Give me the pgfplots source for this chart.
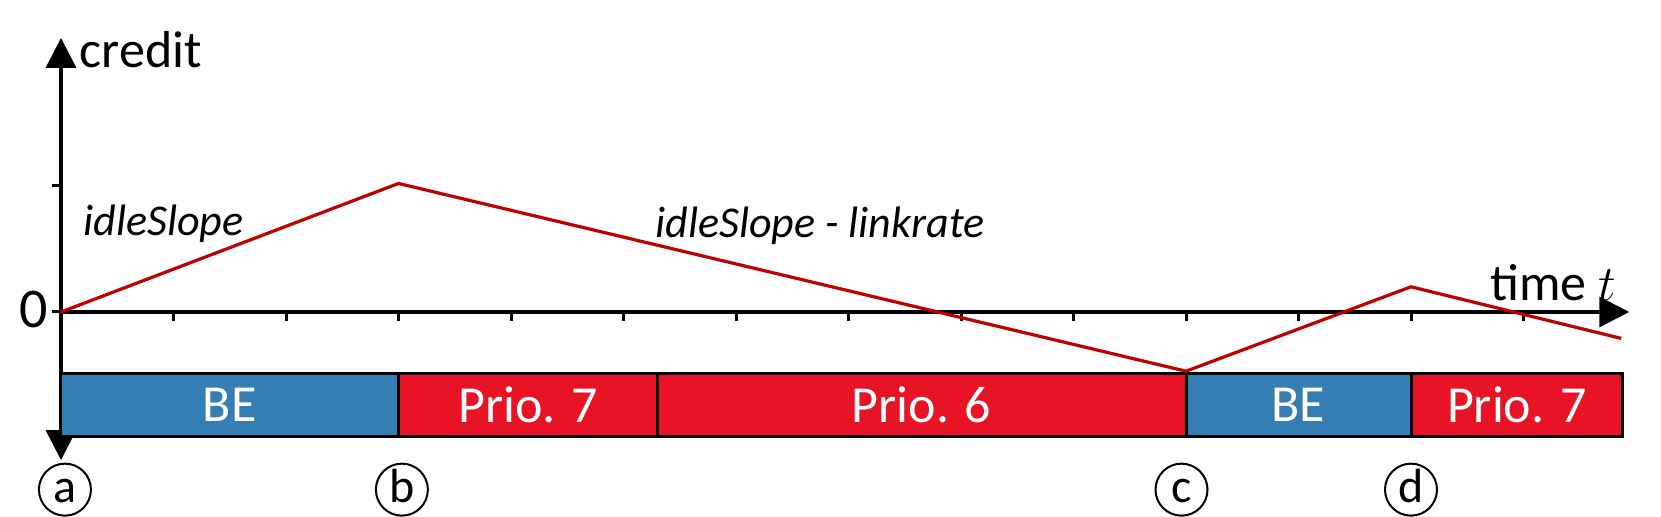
\documentclass[border=0pt]{standalone}
\usepackage{fontspec}
\setmainfont{Carlito}
\usepackage{pgfplots}
\pgfplotsset{compat=1.18}
\usetikzlibrary{arrows.meta}
\definecolor{beblue}{HTML}{347EB4}
\definecolor{prred}{HTML}{E81426}
\definecolor{creditred}{HTML}{C00000}
\begin{document}
\begin{tikzpicture}
\path[use as bounding box] (0,0) rectangle (830.5pt,258.5pt);
\begin{axis}[
  anchor=origin, at={(30.5pt,102.5pt)},
  x=56.25pt, y=63pt,
  xmin=0, xmax=13.94, ymin=-1.175, ymax=2.175,
  enlargelimits=false,
  axis lines=middle,
  clip=false,
  xtick={1,...,13}, xticklabels={},
  ytick={0,1}, yticklabels={},
  hide obscured y ticks=false,
  tick align=outside,
  major tick length=4.5pt,
  every tick/.style={black, line width=1.5pt},
  axis line style={line width=1.7pt, black},
  x axis line style={-{Triangle[length=15pt,width=15pt]}},
  y axis line style={{Triangle[length=15pt,width=15pt]}-{Triangle[length=15pt,width=15pt]}},
]
% schedule bars
\addplot[fill=beblue, draw=black, line width=1.5pt, line join=miter, mark=none] coordinates {(0,-0.99) (3,-0.99) (3,-0.485) (0,-0.485)} -- cycle;
\addplot[fill=prred, draw=black, line width=1.5pt, line join=miter, mark=none] coordinates {(3,-0.99) (5.3,-0.99) (5.3,-0.485) (3,-0.485)} -- cycle;
\addplot[fill=prred, draw=black, line width=1.5pt, line join=miter, mark=none] coordinates {(5.3,-0.99) (10,-0.99) (10,-0.485) (5.3,-0.485)} -- cycle;
\addplot[fill=beblue, draw=black, line width=1.5pt, line join=miter, mark=none] coordinates {(10,-0.99) (12,-0.99) (12,-0.485) (10,-0.485)} -- cycle;
\addplot[fill=prred, draw=black, line width=1.5pt, line join=miter, mark=none] coordinates {(12,-0.99) (13.88,-0.99) (13.88,-0.485) (12,-0.485)} -- cycle;
% credit curve
\addplot[creditred, line width=1.6pt, mark=none] coordinates {(0,0) (3,1.02) (10,-0.47) (12,0.2) (13.87,-0.21)};
% bar labels
\begin{scope}[every node/.style={white, inner sep=0pt, font=\fontsize{26}{26}\selectfont}]
\node at (axis cs:1.5,-0.74) {BE};
\node at (axis cs:4.15,-0.74) {Prio. 7};
\node at (axis cs:7.65,-0.74) {Prio. 6};
\node at (axis cs:11,-0.74) {BE};
\node at (axis cs:12.94,-0.74) {Prio. 7};
\end{scope}
% texts
\node[anchor=base west, inner sep=0pt, font=\fontsize{26}{26}\selectfont] at (axis cs:0.165,1.937) {credit};
\node[anchor=base east, inner sep=0pt, font=\fontsize{28}{28}\selectfont] at (axis cs:-0.11,-0.125) {0};
\node[anchor=base west, inner sep=0pt, font=\fontsize{22}{22}\selectfont\itshape] at (axis cs:0.196,0.611) {idleSlope};
\node[anchor=base west, inner sep=0pt, font=\fontsize{22}{22}\selectfont\itshape] at (axis cs:5.28,0.595) {idleSlope - linkrate};
\node[anchor=base west, inner sep=0pt, font=\fontsize{26}{26}\selectfont] at (axis cs:12.70,0.095) {time $t$};
% event markers
\begin{scope}[every node/.style={circle, draw=black, line width=1pt, minimum size=26pt, inner sep=0pt}]
\node at (axis cs:0.035,-1.41) {};
\node at (axis cs:3.03,-1.41) {};
\node at (axis cs:9.96,-1.41) {};
\node at (axis cs:12.0,-1.41) {};
\end{scope}
\begin{scope}[every node/.style={anchor=base, inner sep=0pt, font=\fontsize{24}{24}\selectfont}]
\node at (axis cs:0.035,-1.515) {a};
\node at (axis cs:3.03,-1.515) {b};
\node at (axis cs:9.96,-1.515) {c};
\node at (axis cs:12.0,-1.515) {d};
\end{scope}
\end{axis}
\end{tikzpicture}
\end{document}
